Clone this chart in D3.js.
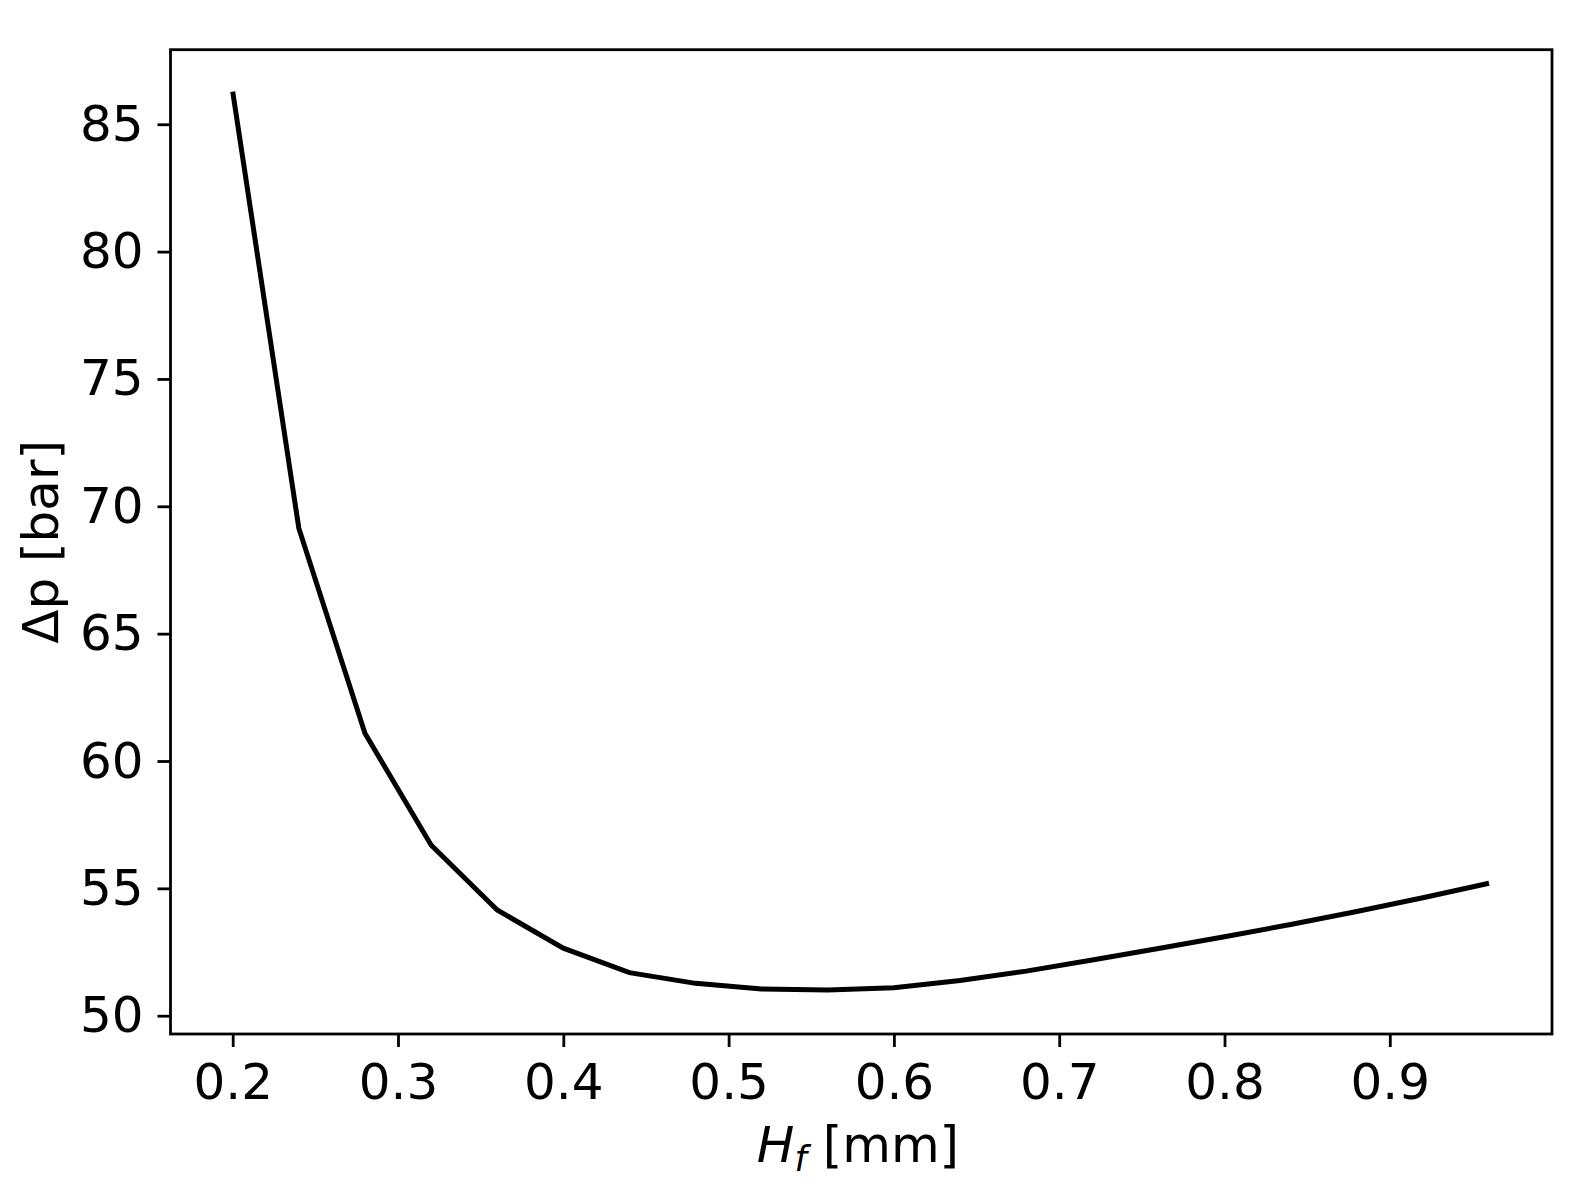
<!DOCTYPE html>
<html>
<head>
<meta charset="utf-8">
<script src="https://cdn.jsdelivr.net/npm/d3@7"></script>
<style>
  html, body { margin: 0; padding: 0; background: #fff; }
  svg { display: block; font-family: "DejaVu Sans", sans-serif; }
</style>
</head>
<body>
<script>
const hf = [0.20, 0.24, 0.28, 0.32, 0.36, 0.40, 0.44, 0.48, 0.52, 0.56, 0.60, 0.64, 0.68, 0.72, 0.76, 0.80, 0.84, 0.88, 0.92, 0.96];
const dp = [86.28, 69.14, 61.09, 56.70, 54.15, 52.65, 51.69, 51.27, 51.05, 51.01, 51.10, 51.38, 51.75, 52.19, 52.64, 53.10, 53.58, 54.09, 54.63, 55.20];
const xTicks = [0.2, 0.3, 0.4, 0.5, 0.6, 0.7, 0.8, 0.9];
const yTicks = [50, 55, 60, 65, 70, 75, 80, 85];

(function () {
const W = 1584, H = 1197;
const pL = 170.5, pR = 1552, pT = 49.7, pB = 1034;

const svg = d3.select("body").append("svg").attr("width", W).attr("height", H);

const x0 = 0.2 - (232.7 - pL) / 1653;
const x1 = 0.2 + (pR - 232.7) / 1653;
const x = d3.scaleLinear().domain([x0, x1]).range([pL, pR]);
const y0 = 50 - (pB - 1015.7) / 25.47;
const y1 = 50 + (1015.7 - pT) / 25.47;
const y = d3.scaleLinear().domain([y0, y1]).range([pB, pT]);

const fs = 50;

const xAxis = svg.append("g").attr("transform", `translate(0,${pB})`)
  .call(d3.axisBottom(x).tickValues(xTicks).tickFormat(d3.format(".1f")).tickSize(13).tickPadding(16));
const yAxis = svg.append("g").attr("transform", `translate(${pL},0)`)
  .call(d3.axisLeft(y).tickValues(yTicks).tickFormat(d3.format("d")).tickSize(13).tickPadding(14));

[xAxis, yAxis].forEach(a => {
  a.select(".domain").remove();
  a.selectAll(".tick line").attr("stroke", "#000").attr("stroke-width", 2.8);
  a.selectAll(".tick text").attr("fill", "#000").attr("font-size", fs)
    .attr("font-family", "DejaVu Sans, sans-serif");
});

svg.append("path")
  .datum(hf.map((h, i) => [h, dp[i]]))
  .attr("fill", "none")
  .attr("stroke", "#000")
  .attr("stroke-width", 5)
  .attr("stroke-linejoin", "miter")
  .attr("d", d3.line().x(d => x(d[0])).y(d => y(d[1])));

svg.append("rect")
  .attr("x", pL).attr("y", pT)
  .attr("width", pR - pL).attr("height", pB - pT)
  .attr("fill", "none").attr("stroke", "#000").attr("stroke-width", 2.8);

const xl = svg.append("text")
  .attr("x", 858).attr("y", 1162)
  .attr("text-anchor", "middle").attr("font-size", fs).attr("fill", "#000");
xl.append("tspan").attr("font-style", "italic").text("H");
xl.append("tspan").attr("font-style", "italic").attr("font-size", fs * 0.7).attr("dy", 9).text("f");
xl.append("tspan").attr("dy", -9).text(" [mm]");

svg.append("text")
  .attr("transform", `translate(58,${(pT + pB) / 2}) rotate(-90)`)
  .attr("text-anchor", "middle").attr("font-size", fs).attr("fill", "#000")
  .text("Δp [bar]");
})();
</script>
</body>
</html>
